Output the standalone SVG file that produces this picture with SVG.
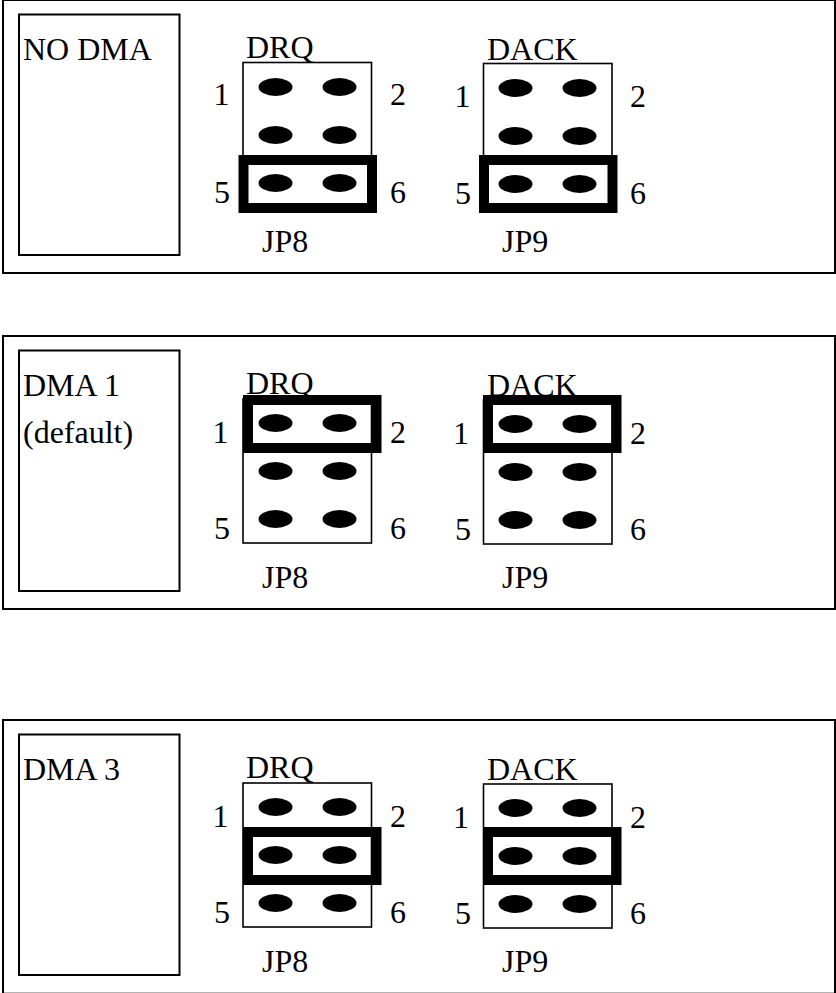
<svg xmlns="http://www.w3.org/2000/svg" xmlns:xlink="http://www.w3.org/1999/xlink" width="836" height="993" viewBox="0 0 836 993">
<style>
text{font-family:"Liberation Serif","Times New Roman",serif;font-size:32px;fill:#000}
.b{fill:none;stroke:#000;stroke-width:2px}
.c{fill:none;stroke:#000;stroke-width:1.6px}
.j{fill:none;stroke:#000;stroke-width:10px}
.p{fill:#000}
</style>
<defs>
<g id="pins">
<ellipse class="p" cx="0" cy="0" rx="17" ry="9"/><ellipse class="p" cx="64" cy="0" rx="17" ry="9"/>
<ellipse class="p" cx="0" cy="48" rx="17" ry="9"/><ellipse class="p" cx="64" cy="48" rx="17" ry="9"/>
<ellipse class="p" cx="0" cy="96" rx="17" ry="9"/><ellipse class="p" cx="64" cy="96" rx="17" ry="9"/>
</g>
</defs>
<rect width="836" height="993" fill="#fff"/>
<g id="panel-no-dma">
<rect class="b" x="3" y="0" width="832" height="273"/>
<rect class="b" x="19" y="14.500" width="160.500" height="240.500"/>
<text x="23" y="60">NO DMA</text>
<g id="jp8-no-dma">
<text x="246" y="58">DRQ</text>
<rect class="c" x="243" y="62.500" width="128.500" height="144"/>
<use xlink:href="#pins" href="#pins" x="275.500" y="87"/>
<rect class="j" x="243.500" y="160" width="128.500" height="48"/>
<text x="213.500" y="105">1</text><text x="390" y="105">2</text><text x="214" y="202.500">5</text><text x="390" y="202.500">6</text>
<text x="262" y="252">JP8</text>
</g>
<g id="jp9-no-dma">
<text x="487" y="60">DACK</text>
<rect class="c" x="483.500" y="63.500" width="128.500" height="144"/>
<use xlink:href="#pins" href="#pins" x="515.500" y="88"/>
<rect class="j" x="484" y="160" width="128.500" height="48"/>
<text x="454.500" y="107">1</text><text x="630" y="107">2</text><text x="455" y="203.500">5</text><text x="630" y="203.500">6</text>
<text x="502" y="252">JP9</text>
</g>
</g>
<g id="panel-dma-1">
<rect class="b" x="3" y="336" width="832" height="273"/>
<rect class="b" x="19" y="350.500" width="160.500" height="240.500"/>
<text x="23" y="396">DMA 1</text>
<text x="23" y="443">(default)</text>
<g id="jp8-dma-1">
<text x="246" y="394">DRQ</text>
<rect class="c" x="243" y="399" width="128.500" height="144"/>
<use xlink:href="#pins" href="#pins" x="275.500" y="423"/>
<rect class="j" x="248" y="400" width="128.500" height="48"/>
<text x="212.500" y="443">1</text><text x="390" y="443">2</text><text x="214" y="539">5</text><text x="390" y="539">6</text>
<text x="262" y="588">JP8</text>
</g>
<g id="jp9-dma-1">
<text x="487" y="396">DACK</text>
<rect class="c" x="483.500" y="400" width="128.500" height="144"/>
<use xlink:href="#pins" href="#pins" x="515.500" y="424"/>
<rect class="j" x="488" y="400" width="128.500" height="48"/>
<text x="453" y="444">1</text><text x="630" y="444">2</text><text x="455" y="540">5</text><text x="630" y="540">6</text>
<text x="502" y="588">JP9</text>
</g>
</g>
<g id="panel-dma-3">
<rect class="b" x="3" y="720" width="832" height="273.700"/>
<rect class="b" x="19" y="734.500" width="160.500" height="240.500"/>
<text x="23" y="780">DMA 3</text>
<g id="jp8-dma-3">
<text x="246" y="778">DRQ</text>
<rect class="c" x="243" y="783" width="128.500" height="144"/>
<use xlink:href="#pins" href="#pins" x="275.500" y="807"/>
<rect class="j" x="248" y="832" width="128.500" height="48"/>
<text x="212.500" y="826.500">1</text><text x="390" y="826.500">2</text><text x="214" y="923">5</text><text x="390" y="923">6</text>
<text x="262" y="971.500">JP8</text>
</g>
<g id="jp9-dma-3">
<text x="487" y="780">DACK</text>
<rect class="c" x="483.500" y="784" width="128.500" height="144"/>
<use xlink:href="#pins" href="#pins" x="515.500" y="808"/>
<rect class="j" x="488" y="832" width="128.500" height="48"/>
<text x="453" y="828">1</text><text x="630" y="828">2</text><text x="455" y="924">5</text><text x="630" y="924">6</text>
<text x="502" y="971.500">JP9</text>
</g>
</g>
</svg>
